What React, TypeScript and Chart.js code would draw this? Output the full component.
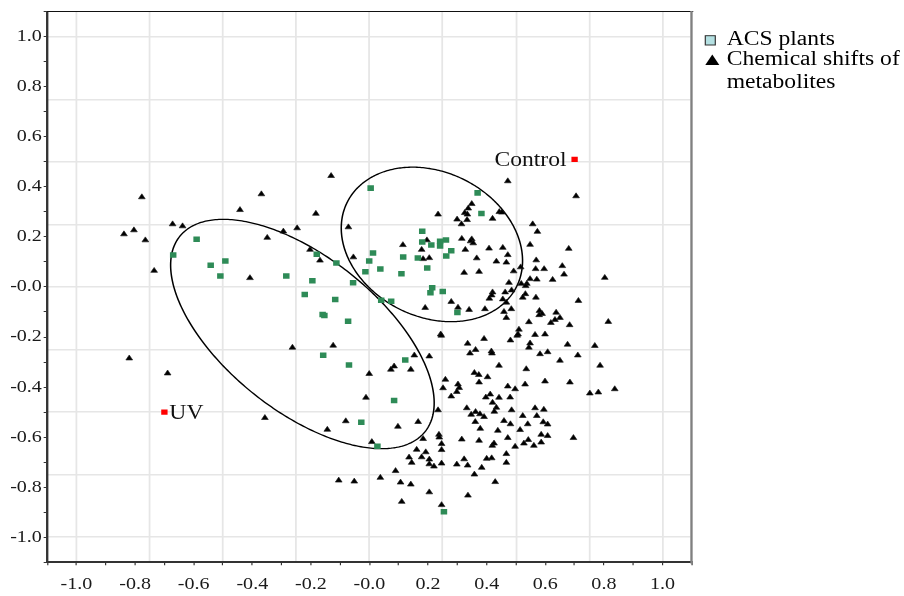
import React, { useEffect, useRef } from 'react';
import { Chart, registerables } from 'chart.js';

Chart.register(...registerables);

// ---------- data ----------
const acsPlants: number[][] = [
  [-0.670, 0.128], [-0.590, 0.191], [-0.542, 0.087], [-0.492, 0.104], [-0.509, 0.044],
  [-0.284, 0.044], [-0.221, -0.030], [-0.195, 0.025], [-0.180, 0.131], [-0.113, 0.096],
  [-0.056, 0.017], [-0.117, -0.050], [-0.160, -0.110], [-0.154, -0.114], [-0.073, -0.137],
  [-0.158, -0.273], [-0.070, -0.312], [0.004, 0.395], [0.012, 0.136], [-0.001, 0.104],
  [-0.014, 0.061], [0.037, 0.072], [0.115, 0.120], [0.109, 0.053], [0.040, -0.053],
  [0.074, -0.057], [0.122, -0.292], [0.084, -0.454], [-0.028, -0.541], [0.027, -0.636],
  [0.165, 0.116], [0.180, 0.223], [0.180, 0.180], [0.211, 0.168], [0.241, 0.183],
  [0.261, 0.188], [0.241, 0.164], [0.279, 0.145], [0.262, 0.124], [0.197, 0.076],
  [0.214, -0.003], [0.208, -0.023], [0.250, -0.018], [0.300, -0.102], [0.369, 0.376],
  [0.382, 0.294], [0.254, -0.898],
];

const chemicalShifts: number[][] = [
  [-0.838, 0.211], [-0.804, 0.227], [-0.777, 0.359], [-0.765, 0.187], [-0.735, 0.065],
  [-0.672, 0.251], [-0.638, 0.243], [-0.442, 0.308], [-0.369, 0.371], [-0.408, 0.036],
  [-0.349, 0.197], [-0.294, 0.222], [-0.247, 0.235], [-0.820, -0.285], [-0.689, -0.345],
  [-0.357, -0.523], [-0.263, -0.242],
  [-0.131, 0.444], [-0.183, 0.293], [-0.203, 0.149], [-0.169, 0.106], [-0.072, 0.239],
  [-0.055, 0.119], [-0.124, -0.234], [-0.001, -0.347], [-0.012, -0.442], [-0.081, -0.536],
  [-0.144, -0.570], [0.008, -0.619], [-0.105, -0.773], [-0.052, -0.777], [0.037, -0.762],
  [0.234, 0.290], [0.299, 0.270], [0.325, 0.296], [0.334, 0.290], [0.337, 0.314],
  [0.349, 0.332], [0.314, 0.251], [0.333, 0.268], [0.443, 0.300], [0.452, 0.298],
  [0.420, 0.273], [0.472, 0.423], [0.705, 0.363], [0.557, 0.251], [0.573, 0.221],
  [0.114, 0.168], [0.196, 0.187], [0.178, 0.149], [0.183, 0.112], [0.204, 0.116],
  [0.315, 0.193], [0.349, 0.191], [0.345, 0.183], [0.354, 0.175], [0.327, 0.149],
  [0.366, 0.115], [0.374, 0.061], [0.323, 0.057], [0.190, -0.083], [0.279, -0.059],
  [0.302, -0.082], [0.340, -0.091],
  [0.408, 0.154], [0.455, 0.157], [0.548, 0.169], [0.680, 0.153], [0.472, 0.128],
  [0.433, 0.102], [0.467, 0.098], [0.516, 0.079], [0.492, 0.063], [0.569, 0.107],
  [0.567, 0.072], [0.596, 0.072], [0.658, 0.084], [0.664, 0.050], [0.625, 0.029],
  [0.571, 0.030], [0.548, 0.032], [0.518, 0.013], [0.537, 0.013], [0.533, 0.004],
  [0.476, 0.017], [0.803, 0.037], [0.420, -0.021], [0.417, -0.033], [0.409, -0.046],
  [0.463, -0.021], [0.485, -0.013], [0.455, -0.049], [0.532, -0.028], [0.523, -0.042],
  [0.568, -0.042], [0.713, -0.055], [0.467, -0.062], [0.459, -0.099], [0.484, -0.088],
  [0.394, -0.088], [0.467, -0.123], [0.580, -0.095], [0.589, -0.107], [0.579, -0.112],
  [0.637, -0.102], [0.650, -0.123], [0.633, -0.131], [0.619, -0.143], [0.683, -0.152],
  [0.815, -0.139], [0.544, -0.140], [0.510, -0.170], [0.769, -0.235], [0.787, -0.314],
  [0.752, -0.425], [0.781, -0.421], [0.837, -0.408],
  [0.243, -0.189], [0.245, -0.194], [0.335, -0.226], [0.391, -0.207], [0.481, -0.213],
  [0.504, -0.194], [0.507, -0.189], [0.565, -0.191], [0.599, -0.189], [0.343, -0.265],
  [0.362, -0.251], [0.416, -0.257], [0.418, -0.265], [0.548, -0.225], [0.544, -0.242],
  [0.582, -0.268], [0.608, -0.260], [0.676, -0.230], [0.711, -0.273], [0.650, -0.294],
  [0.153, -0.273], [0.204, -0.277], [0.084, -0.317], [0.073, -0.330], [0.141, -0.330],
  [0.442, -0.314], [0.535, -0.328], [0.358, -0.343], [0.373, -0.351], [0.403, -0.360],
  [0.259, -0.370], [0.374, -0.381], [0.302, -0.389], [0.306, -0.403], [0.298, -0.419],
  [0.251, -0.404], [0.279, -0.437], [0.472, -0.397], [0.497, -0.408], [0.531, -0.389],
  [0.599, -0.377], [0.684, -0.381], [0.412, -0.429], [0.397, -0.441], [0.442, -0.442],
  [0.480, -0.441], [0.420, -0.462], [0.234, -0.492], [0.332, -0.484], [0.347, -0.510],
  [0.362, -0.499], [0.377, -0.508], [0.391, -0.519], [0.433, -0.482], [0.426, -0.498],
  [0.485, -0.492], [0.565, -0.484], [0.595, -0.490], [0.523, -0.515], [0.571, -0.515],
  [0.166, -0.539], [0.097, -0.558], [0.361, -0.539], [0.459, -0.535], [0.481, -0.548],
  [0.378, -0.566], [0.438, -0.574], [0.540, -0.548], [0.514, -0.571], [0.593, -0.540],
  [0.608, -0.549], [0.586, -0.590], [0.608, -0.595], [0.696, -0.603], [0.183, -0.607],
  [0.237, -0.590], [0.238, -0.601], [0.246, -0.627], [0.315, -0.609], [0.374, -0.614],
  [0.419, -0.634], [0.425, -0.625], [0.472, -0.603], [0.542, -0.611], [0.527, -0.625],
  [0.561, -0.634], [0.586, -0.621], [0.497, -0.638], [0.246, -0.651], [0.161, -0.650],
  [0.192, -0.660], [0.135, -0.681], [0.144, -0.702], [0.178, -0.680], [0.204, -0.689],
  [0.204, -0.708], [0.220, -0.717], [0.246, -0.705], [0.298, -0.709], [0.323, -0.688],
  [0.335, -0.713], [0.358, -0.749], [0.383, -0.722], [0.400, -0.686], [0.417, -0.684],
  [0.467, -0.667], [0.467, -0.702], [0.089, -0.735], [0.106, -0.781], [0.141, -0.789],
  [0.204, -0.820], [0.110, -0.858], [0.246, -0.871], [0.336, -0.833], [0.429, -0.779],
];

const markerNames = ['Control', 'UV'];
const markerPoints: number[][] = [[0.70, 0.51], [-0.70, -0.50]];

// ellipse: centre and two conjugate half-diameters, in data units
const ellipseCenters: number[][] = [[-0.229, -0.188], [0.213, 0.170]];
const ellipseAxisU: number[][] = [[0.418, -0.391], [0.288, -0.171]];
const ellipseAxisV: number[][] = [[-0.166, -0.239], [-0.113, -0.257]];

const axisTicks = [-1.1, -1.0, -0.9, -0.8, -0.7, -0.6, -0.5, -0.4, -0.3, -0.2, -0.1, 0, 0.1, 0.2, 0.3, 0.4, 0.5, 0.6, 0.7, 0.8, 0.9, 1.0, 1.1];
const labeledTicks = [-1.0, -0.8, -0.6, -0.4, -0.2, 0, 0.2, 0.4, 0.6, 0.8, 1.0];
const gridValues = [-1.0, -0.75, -0.5, -0.25, 0, 0.25, 0.5, 0.75, 1.0];

const legendLabels = ['ACS plants', 'Chemical shifts of', 'metabolites'];

// ---------- styling ----------
const SX = 1.18; // horizontal stretch of the reference picture
const W = 904;
const H = 596;
const FONT = '"Liberation Serif", "Times New Roman", serif';

const fmt = (v: number) => {
  const r = Math.round(v * 10);
  if (r === 0) return '-0.0';
  return (r / 10).toFixed(1);
};
const isLabeled = (v: number) => labeledTicks.some((t) => Math.abs(t - v) < 1e-6);

const stretchPlugin = {
  id: 'stretch',
  beforeDraw(chart: any) {
    chart.ctx.save();
    chart.ctx.scale(SX, 1);
  },
  afterDraw(chart: any) {
    chart.ctx.restore();
  },
};

const overlayPlugin = {
  id: 'overlay',
  beforeDatasetsDraw(chart: any) {
    const { ctx } = chart;
    const xs = chart.scales.x;
    const ys = chart.scales.y;
    ctx.save();
    ctx.strokeStyle = '#000';
    ctx.lineWidth = 1.3;
    for (let e = 0; e < ellipseCenters.length; e++) {
      const c = ellipseCenters[e];
      const u = ellipseAxisU[e];
      const v = ellipseAxisV[e];
      ctx.beginPath();
      const n = 360;
      for (let i = 0; i <= n; i++) {
        const t = (i / n) * Math.PI * 2;
        const dx = c[0] + u[0] * Math.cos(t) + v[0] * Math.sin(t);
        const dy = c[1] + u[1] * Math.cos(t) + v[1] * Math.sin(t);
        const px = xs.getPixelForValue(dx);
        const py = ys.getPixelForValue(dy);
        if (i === 0) ctx.moveTo(px, py);
        else ctx.lineTo(px, py);
      }
      ctx.closePath();
      ctx.stroke();
    }
    ctx.restore();
  },
  afterDatasetsDraw(chart: any) {
    const { ctx } = chart;
    const xs = chart.scales.x;
    const ys = chart.scales.y;
    ctx.save();
    // point labels
    ctx.font = `20px ${FONT}`;
    ctx.fillStyle = '#111';
    ctx.textBaseline = 'alphabetic';
    const cx = xs.getPixelForValue(markerPoints[0][0]);
    const cy = ys.getPixelForValue(markerPoints[0][1]);
    ctx.textAlign = 'right';
    ctx.fillText(markerNames[0], cx - 6.8, cy + 6.6);
    const ux = xs.getPixelForValue(markerPoints[1][0]);
    const uy = ys.getPixelForValue(markerPoints[1][1]);
    ctx.textAlign = 'left';
    ctx.fillText(markerNames[1], ux + 4.2, uy + 6.6);

    // legend (outside the plot, right side)
    const lx0 = 705.3 / SX;
    const lx1 = 715.3 / SX;
    ctx.fillStyle = '#b4e0e2';
    ctx.strokeStyle = '#333';
    ctx.lineWidth = 1;
    ctx.fillRect(lx0, 35.7, lx1 - lx0, 9.3);
    ctx.strokeRect(lx0, 35.7, lx1 - lx0, 9.3);
    ctx.fillStyle = '#000';
    ctx.beginPath();
    ctx.moveTo(712.3 / SX, 54.5);
    ctx.lineTo(719.3 / SX, 65);
    ctx.lineTo(705.3 / SX, 65);
    ctx.closePath();
    ctx.fill();
    ctx.font = `20px ${FONT}`;
    ctx.textAlign = 'left';
    const tx = 726.7 / SX;
    ctx.fillText(legendLabels[0], tx, 45);
    ctx.fillText(legendLabels[1], tx, 65);
    ctx.fillText(legendLabels[2], tx, 88);
    ctx.restore();
  },
};

const plotLeft = 47.2;
const plotRight = 691.8;
const plotTop = 6.75;
const plotBottom = 562.25;

export default function App() {
  const ref = useRef<HTMLCanvasElement>(null);

  useEffect(() => {
    document.body.style.margin = '0';
    const canvas = ref.current;
    if (!canvas) return;
    const tickFont = { family: FONT, size: 17 };
    const chart = new Chart(canvas, {
      type: 'scatter',
      data: {
        datasets: [
          {
            label: 'markers',
            data: markerPoints.map((p) => ({ x: p[0], y: p[1] })),
            pointStyle: 'rect',
            pointRadius: 3.8,
            backgroundColor: '#ff0000',
            borderWidth: 0,
          },
          {
            label: 'ACS plants',
            data: acsPlants.map((p) => ({ x: p[0], y: p[1] })),
            pointStyle: 'rect',
            pointRadius: 3.9,
            backgroundColor: '#2e8b57',
            borderWidth: 0,
          },
          {
            label: 'Chemical shifts of metabolites',
            data: chemicalShifts.map((p) => ({ x: p[0], y: p[1] })),
            pointStyle: 'triangle',
            pointRadius: 3.3,
            backgroundColor: '#000',
            borderColor: '#1a1a1a',
            borderWidth: 0.6,
          },
        ],
      },
      options: {
        animation: false,
        responsive: false,
        maintainAspectRatio: false,
        events: [],
        layout: {
          padding: { left: 0, top: plotTop, right: W - plotRight / SX, bottom: 0 },
        },
        plugins: {
          legend: { display: false },
          tooltip: { enabled: false },
        },
        scales: {
          x: {
            type: 'linear',
            position: 'bottom',
            min: -1.1,
            max: 1.1,
            afterBuildTicks: (s: any) => {
              s.ticks = axisTicks.map((v) => ({ value: v }));
            },
            afterFit: (s: any) => {
              s.height = H - plotBottom;
            },
            ticks: {
              autoSkip: false,
              maxRotation: 0,
              minRotation: 0,
              padding: 9,
              color: '#1a1a1a',
              font: tickFont,
              callback: (v: any) => (isLabeled(Number(v)) ? fmt(Number(v)) : ''),
            },
            grid: { drawOnChartArea: false, drawTicks: true, tickLength: 3, tickColor: '#333', tickWidth: 1 },
            border: { display: true, color: '#333', width: 2 },
          },
          y: {
            type: 'linear',
            position: 'left',
            min: -1.1,
            max: 1.1,
            afterBuildTicks: (s: any) => {
              s.ticks = axisTicks.map((v) => ({ value: v }));
            },
            afterFit: (s: any) => {
              s.width = plotLeft / SX;
            },
            ticks: {
              autoSkip: false,
              padding: 1.5,
              color: '#1a1a1a',
              font: tickFont,
              callback: (v: any) => (isLabeled(Number(v)) ? fmt(Number(v)) : ''),
            },
            grid: { drawOnChartArea: false, drawTicks: true, tickLength: 3, tickColor: '#333', tickWidth: 1 },
            border: { display: true, color: '#333', width: 2 },
          },
          xg: {
            type: 'linear',
            position: 'top',
            min: -1.1,
            max: 1.1,
            afterBuildTicks: (s: any) => {
              s.ticks = gridValues.map((v) => ({ value: v }));
            },
            afterFit: (s: any) => {
              s.height = 0;
            },
            ticks: { display: false },
            grid: { drawTicks: false, color: '#e6e6e6', lineWidth: 1.5 },
            border: { display: true, color: '#111', width: 1 },
          },
          yg: {
            type: 'linear',
            position: 'right',
            min: -1.1,
            max: 1.1,
            afterBuildTicks: (s: any) => {
              s.ticks = gridValues.map((v) => ({ value: v }));
            },
            afterFit: (s: any) => {
              s.width = 0;
            },
            ticks: { display: false },
            grid: { drawTicks: false, color: '#e6e6e6', lineWidth: 1.5 },
            border: { display: true, color: '#808080', width: 2 },
          },
        },
      },
      plugins: [stretchPlugin, overlayPlugin],
    } as any);
    return () => chart.destroy();
  }, []);

  return (
    <canvas
      ref={ref}
      width={W}
      height={H}
      style={{ display: 'block', width: W, height: H }}
    />
  );
}
